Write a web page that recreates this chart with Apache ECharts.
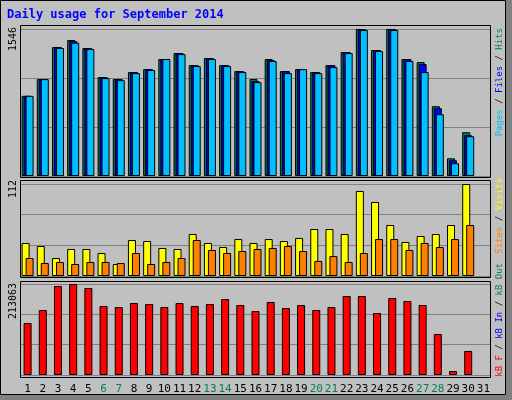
<!DOCTYPE html>
<html><head><meta charset="utf-8">
<script src="https://cdn.jsdelivr.net/npm/echarts@6/dist/echarts.min.js"></script>
<style>html,body{margin:0;padding:0;background:#c0c0c0}#c{width:512px;height:400px}</style>
</head><body><div id="c"></div>
<script>
const days = ['1','2','3','4','5','6','7','8','9','10','11','12','13','14','15','16','17','18','19','20','21','22','23','24','25','26','27','28','29','30','31'];
const weekend = ['6','7','13','14','20','21','27','28'];
const hits  = [843,1019,1356,1430,1346,1040,1019,1093,1124,1230,1293,1166,1240,1166,1103,1019,1230,1103,1124,1093,1166,1304,1546,1325,1546,1230,1198,734,186,460,null];
const files = [843,1019,1356,1419,1346,1040,1019,1093,1124,1230,1293,1166,1240,1166,1103,998,1219,1103,1124,1093,1166,1304,1546,1325,1546,1230,1177,713,165,429,null];
const pages = [843,1019,1346,1402,1335,1030,1008,1082,1114,1230,1282,1156,1230,1156,1093,987,1209,1082,1124,1082,1145,1293,1535,1314,1535,1209,1093,650,134,418,null];
const visits = [40.2,36.5,21.9,32.9,32.9,28.0,14.6,43.8,42.6,34.1,32.9,51.1,40.2,35.3,45.0,40.2,45.0,42.6,46.3,57.2,57.2,51.1,103.5,90.1,62.1,41.4,48.7,51.1,62.1,112,null];
const sites  = [21.9,15.8,17.0,14.6,17.0,17.0,15.8,28.0,14.6,17.0,21.9,43.8,31.7,28.0,30.4,32.9,34.1,36.5,30.4,18.3,24.3,17.0,28.0,45.0,45.0,31.7,40.2,35.3,45.0,62.1,null];
const kbytes = [121700,152200,208400,213063,203700,161600,159200,168600,166200,159200,168600,161600,166200,177900,163900,149800,170900,156900,163900,152200,159200,185000,185000,145200,180300,173300,163900,96000,9400,56200,null];
const maxHits = 1546, maxVisits = 112, maxKB = 213063;

const mono = 'DejaVu Sans Mono';
const grids = [
  {left:20,right:21,top:29,height:147},
  {left:20,right:21,top:184,height:92},
  {left:20,right:21,top:284,height:91}
];
function xa(i){return {type:'category',gridIndex:i,data:days,boundaryGap:true,
  axisLine:{show:false},axisTick:{show:false},
  axisLabel:{show:i===2,interval:0,margin:9,fontFamily:mono,fontSize:11,color:'#000',
    formatter:v=>weekend.includes(v)?'{w|'+v+'}':v,rich:{w:{color:'#00805c',fontFamily:mono,fontSize:11}}}};}
function ya(i,m){return {type:'value',gridIndex:i,min:0,max:m,interval:m/3,
  axisLine:{show:false},axisTick:{show:false},axisLabel:{show:false},
  splitLine:{lineStyle:{color:'#808080',width:1}}};}
const bs = {borderColor:'#000',borderWidth:1};
function bar(d,c,i,gap){return {type:'bar',data:d,xAxisIndex:i,yAxisIndex:i,barWidth:8,barGap:gap,
  itemStyle:Object.assign({color:c},bs),animation:false,silent:true};}
const rf = '9px '+mono;
function vtext(x,y,rich,text){return {type:'text',x:x,y:y,rotation:Math.PI/2,
  style:{text:text,rich:rich,align:'right',verticalAlign:'middle',font:rf,fill:'#000'}};}
const rs = (c)=>({fill:c,font:rf});
const chart = echarts.init(document.getElementById('c'));
chart.setOption({
  backgroundColor:'#c0c0c0',
  grid:grids,
  xAxis:[xa(0),xa(1),xa(2)],
  yAxis:[ya(0,maxHits),ya(1,maxVisits),ya(2,maxKB)],
  series:[
    bar(hits,'#00805c',0,'-75%'),bar(files,'#0000ff',0,'-75%'),bar(pages,'#00c0ff',0,'-75%'),
    bar(visits,'#ffff00',1,'-50%'),bar(sites,'#ff8000',1,'-50%'),
    bar(kbytes,'#ff0000',2,'0%')
  ],
  graphic:[
    {type:'rect',shape:{x:0.5,y:0.5,width:505,height:394},style:{fill:'none',stroke:'#000',lineWidth:1},z:100},
    {type:'rect',shape:{x:506,y:0,width:6,height:400},style:{fill:'#808080'},z:100},
    {type:'rect',shape:{x:0,y:395,width:512,height:5},style:{fill:'#808080'},z:100},
    {type:'rect',shape:{x:20.5,y:25.5,width:470,height:152},style:{fill:'none',stroke:'#000',lineWidth:1},z:100},
    {type:'rect',shape:{x:20.5,y:180.5,width:470,height:97},style:{fill:'none',stroke:'#000',lineWidth:1},z:100},
    {type:'rect',shape:{x:20.5,y:281.5,width:470,height:96},style:{fill:'none',stroke:'#000',lineWidth:1},z:100},
    {type:'text',x:7,y:15,style:{text:'Daily usage for September 2014',font:'bold 12px '+mono,fill:'#0000ff',verticalAlign:'middle'}},
    {type:'text',x:13,y:27,rotation:Math.PI/2,style:{text:String(maxHits),font:'10px '+mono,fill:'#000',align:'right',verticalAlign:'middle'}},
    {type:'text',x:13,y:180,rotation:Math.PI/2,style:{text:String(maxVisits),font:'10px '+mono,fill:'#000',align:'right',verticalAlign:'middle'}},
    {type:'text',x:13,y:283,rotation:Math.PI/2,style:{text:String(maxKB),font:'10px '+mono,fill:'#000',align:'right',verticalAlign:'middle'}},
    vtext(500,28,{p:rs('#00c0ff'),f:rs('#0000ff'),h:rs('#00805c'),s:rs('#000')},'{p|Pages}{s| / }{f|Files}{s| / }{h|Hits}'),
    vtext(500,178,{v:rs('#ffff00'),t:rs('#ff8000'),s:rs('#000')},'{t|Sites}{s| / }{v|Visits}'),
    vtext(500,263,{r:rs('#ff0000'),b:rs('#0000ff'),g:rs('#00805c'),s:rs('#000')},'{r|kB F}{s| / }{b|kB In}{s| / }{g|kB Out}')
  ]
});
</script></body></html>
